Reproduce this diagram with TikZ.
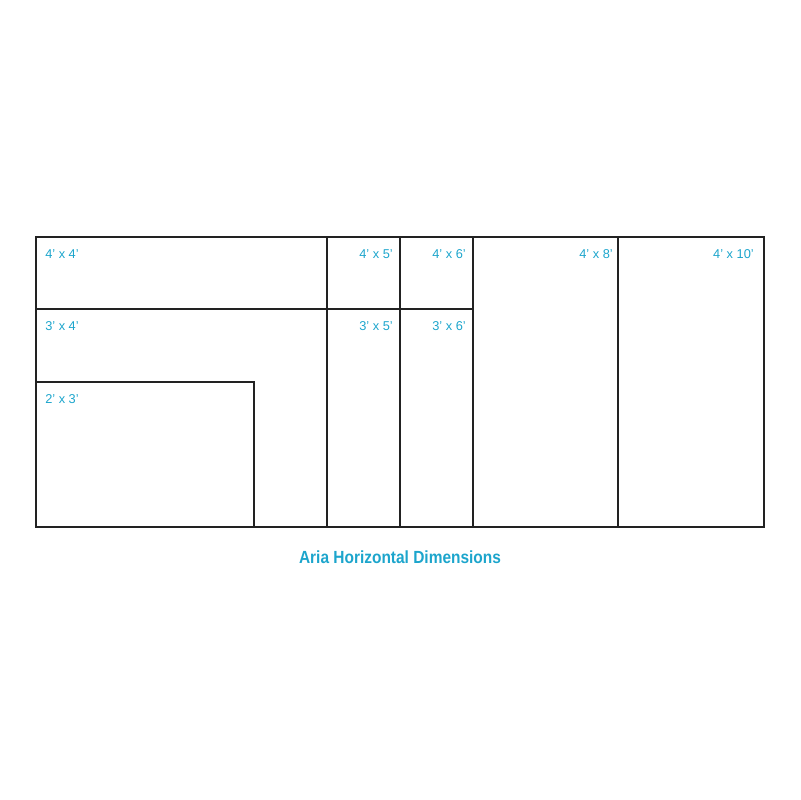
\documentclass[tikz,border=0pt]{standalone}
\usepackage{fontspec}
\setmainfont{Liberation Sans}
\newfontfamily\titlefont[FakeStretch=0.88]{Liberation Sans}
\definecolor{sizeblue}{HTML}{1CA5CC}
\definecolor{panelline}{HTML}{222222}
\tikzset{
	panel/.style = {draw=panelline, line width=1.4pt},
	sizelabel/.style = {text=sizeblue, font=\fontsize{9.1}{10}\selectfont, inner sep=0pt},
	titlelabel/.style = {text=sizeblue, font=\titlefont\bfseries\fontsize{12.5}{14}\selectfont, inner sep=0pt, anchor=base}
}

\begin{document}
\begin{tikzpicture}[x=0.025cm, y=-0.025cm]
			\useasboundingbox (0,0) rectangle (800,800);
			\draw[panel] (36,237) rectangle (764,527);
			\foreach \x in {327,400,473,618} {\draw[panel] (\x,237) -- (\x,527);}
			\draw[panel] (36,309) -- (473,309);
			\draw[panel] (36,382) rectangle (254,527);
			
			\node[sizelabel, anchor=base west] (s44) at (45,258) {4’ x 4’};
			\foreach \x/\w in {393/5,466/6,613/8,754/10} {\node[sizelabel, anchor=base east] (s4\w) at (\x,258) {4’ x \w’};}
			\node[sizelabel, anchor=base west] (s34) at (45,330) {3’ x 4’};
			\foreach \x/\w in {393/5,466/6} {\node[sizelabel, anchor=base east] (s3\w) at (\x,330) {3’ x \w’};}
			\node[sizelabel, anchor=base west] (s23) at (45,403) {2’ x 3’};
			
			\node[titlelabel] (title) at (400,563) {Aria Horizontal Dimensions};
\end{tikzpicture}
\end{document}
